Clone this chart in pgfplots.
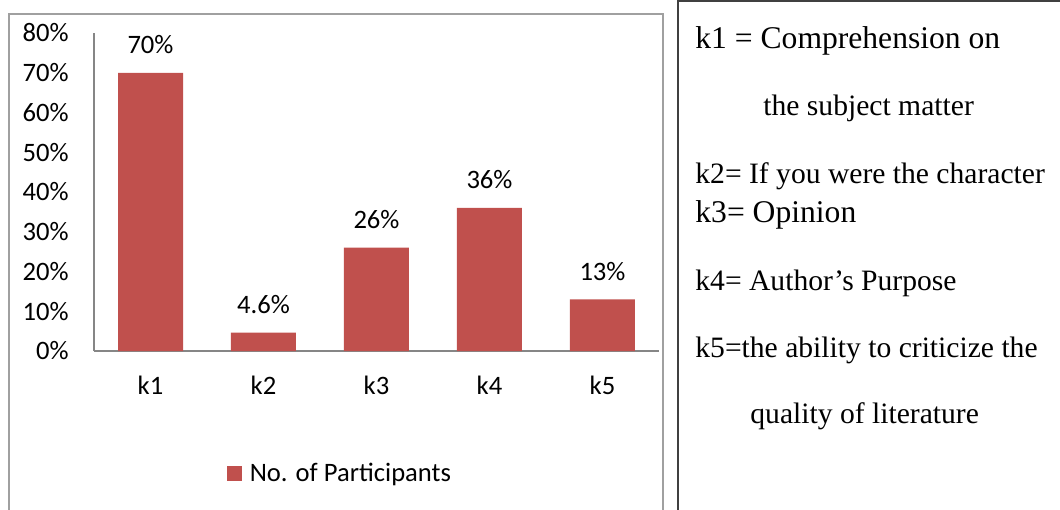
\documentclass[border=0pt]{standalone}
\usepackage{pgfplots}
\pgfplotsset{compat=1.18}
\usepackage{fontspec}
\setmainfont{Carlito}
\newfontfamily\serif{Liberation Serif}
\definecolor{barred}{HTML}{C0504D}
\definecolor{axgray}{HTML}{868686}
\definecolor{framegray}{HTML}{A0A0A0}
\definecolor{boxdark}{HTML}{404040}
\newcommand{\chartfont}{\fontsize{13.3}{16}\selectfont}
\newcommand{\sbig}{\serif\fontsize{15.8}{19}\selectfont}
\newcommand{\snorm}{\serif\fontsize{14.8}{18}\selectfont}
\begin{document}
\begin{tikzpicture}
\begin{scope}[x=0.5pt,y=-0.5pt]
\useasboundingbox (0,0) rectangle (1060,509);
\begin{scope}
\clip (0,0) rectangle (1060,509);
\draw[color=framegray, line width=0.65pt] (9,600) -- (9,14) -- (663,14) -- (663,600);
\draw[color=boxdark, line width=0.75pt] (678,600) -- (678,1) -- (1100,1);
\end{scope}
\node[anchor=base west, inner sep=0pt, font=\sbig] at (695,48) {k1 = Comprehension on};
\node[anchor=base west, inner sep=0pt, font=\snorm] at (763,115) {the subject matter};
\node[anchor=base west, inner sep=0pt, font=\snorm] at (695,183) {k2= If you were the character};
\node[anchor=base west, inner sep=0pt, font=\sbig] at (695,222) {k3= Opinion};
\node[anchor=base west, inner sep=0pt, font=\snorm] at (695,290) {k4= Author’s Purpose};
\node[anchor=base west, inner sep=0pt, font=\snorm] at (695,357) {k5=the ability to criticize the};
\node[anchor=base west, inner sep=0pt, font=\snorm] at (750,423) {quality of literature};
\end{scope}
\begin{axis}[
  at={(47pt,-175.5pt)}, anchor=south west,
  scale only axis, width=282.5pt, height=159pt,
  xmin=-0.5, xmax=4.5, ymin=0, ymax=80,
  axis x line=bottom, axis y line=left,
  axis line style={draw=axgray, line width=0.6pt, -},
  major tick length=0pt,
  xtick={0,1,2,3,4}, xticklabels={k1,k2,k3,k4,k5},
  ytick={0,10,20,30,40,50,60,70,80},
  yticklabel={\pgfmathprintnumber{\tick}\%},
  /pgf/number format/assume math mode=true,
  yticklabel style={anchor=east, inner sep=0pt, xshift=-12.5pt, font=\chartfont},
  xticklabel style={anchor=base, inner sep=0pt, yshift=-21.5pt, font=\chartfont},
  ybar, bar width=32.5pt,
  nodes near coords={\pgfmathprintnumber{\pgfplotspointmeta}\%},
  every node near coord/.append style={anchor=base, inner sep=0pt, yshift=9.5pt, font=\chartfont, text=black},
  legend style={at={(0.437,-0.386)}, anchor=center, draw=none, fill=none, font=\chartfont,
    /tikz/every odd column/.style={column sep=2pt}},
  clip=false,
]
\addplot[fill=barred, draw=none,
  legend image code/.code={\fill[barred] (0pt,-3.75pt) rectangle (7.5pt,3.75pt);}]
  coordinates {(0,70) (1,4.6) (2,26) (3,36) (4,13)};
\addlegendentry{No. of Participants}
\end{axis}
\end{tikzpicture}
\end{document}
